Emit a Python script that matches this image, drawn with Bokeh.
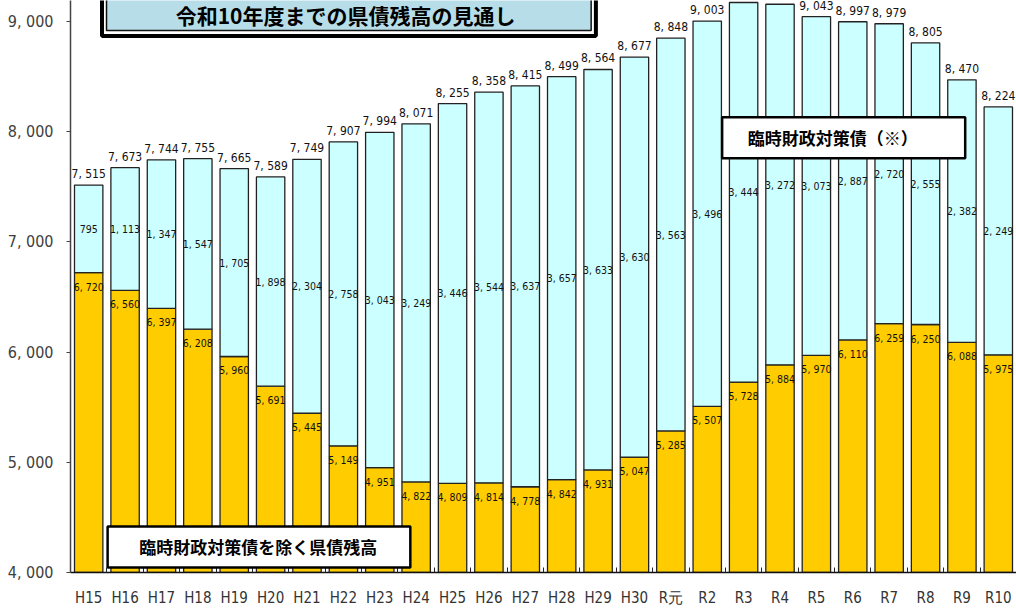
from bokeh.plotting import figure
from bokeh.models import ColumnDataSource, Range1d, FixedTicker, BoxAnnotation, Label
from bokeh.embed import file_html
from bokeh.resources import INLINE
from bokeh.core.properties import value

categories = ["H15", "H16", "H17", "H18", "H19", "H20", "H21", "H22", "H23", "H24",
              "H25", "H26", "H27", "H28", "H29", "H30", "R元", "R2", "R3", "R4",
              "R5", "R6", "R7", "R8", "R9", "R10"]
excl_rinzai = [6720, 6560, 6397, 6208, 5960, 5691, 5445, 5149, 4951, 4822,
               4809, 4814, 4778, 4842, 4931, 5047, 5285, 5507, 5728, 5884,
               5970, 6110, 6259, 6250, 6088, 5975]
rinzai = [795, 1113, 1347, 1547, 1705, 1898, 2304, 2758, 3043, 3249,
          3446, 3544, 3637, 3657, 3633, 3630, 3563, 3496, 3444, 3272,
          3073, 2887, 2720, 2555, 2382, 2249]
totals = [7515, 7673, 7744, 7755, 7665, 7589, 7749, 7907, 7994, 8071,
          8255, 8358, 8415, 8499, 8564, 8677, 8848, 9003, 9172, 9156,
          9043, 8997, 8979, 8805, 8470, 8224]
y_ticks = [4000, 5000, 6000, 7000, 8000, 9000]

title_text = "令和10年度までの県債残高の見通し"
label_upper = "臨時財政対策債（※）"
label_lower = "臨時財政対策債を除く県債残高"


def jfmt(v):
    return f"{v:,}".replace(",", ", ")


xs = list(range(len(categories)))
src = ColumnDataSource(dict(
    x=xs,
    lower=excl_rinzai,
    upper=rinzai,
    total=totals,
    mid=[a + b / 2 for a, b in zip(excl_rinzai, rinzai)],
    lower_txt=[jfmt(v) for v in excl_rinzai],
    upper_txt=[jfmt(v) for v in rinzai],
    total_txt=[jfmt(v) for v in totals],
))

ORANGE = "#FFCC00"
CYAN = "#CCFFFF"
NUMFONT = "'DejaVu Sans Condensed', 'Liberation Sans', sans-serif"
JPFONT = "Noto Sans CJK JP"

p = figure(width=1016, height=609, output_backend="svg", toolbar_location=None,
           x_range=Range1d(-0.5, len(categories) - 0.5),
           y_range=Range1d(4000, 9190),
           min_border_left=70, min_border_right=0, min_border_top=0, min_border_bottom=36)
p.outline_line_color = None
p.xgrid.grid_line_color = None
p.ygrid.grid_line_color = None
p.background_fill_color = "white"

p.vbar_stack(["lower", "upper"], x="x", width=0.78, source=src,
             fill_color=[ORANGE, CYAN], line_color="#222222", line_width=1.3)

# value labels
p.text(x="x", y="lower", text="lower_txt", source=src, text_align="center",
       text_baseline="top", y_offset=8, text_font=value(NUMFONT),
       text_font_size="10.5px", text_color="#111111")
p.text(x="x", y="mid", text="upper_txt", source=src, text_align="center",
       text_baseline="middle", text_font=value(NUMFONT),
       text_font_size="10.5px", text_color="#111111")
p.text(x="x", y="total", text="total_txt", source=src, text_align="center",
       text_baseline="bottom", y_offset=-4, text_font=value(NUMFONT),
       text_font_size="12px", text_color="#111111")

# axes
p.yaxis.ticker = FixedTicker(ticks=y_ticks)
p.yaxis.major_label_overrides = {t: jfmt(t) for t in y_ticks}
p.yaxis.major_label_text_font = NUMFONT
p.yaxis.major_label_text_font_size = "16px"
p.yaxis.major_label_text_color = "#404040"
p.yaxis.major_label_standoff = 13
p.yaxis.major_tick_in = 0
p.yaxis.major_tick_out = 4
p.yaxis.minor_tick_line_color = None
p.yaxis.axis_line_color = "#444444"
p.yaxis.axis_line_width = 1.5
p.yaxis.major_tick_line_color = "#444444"

p.xaxis.ticker = FixedTicker(ticks=xs, minor_ticks=[i + 0.5 for i in xs])
p.xaxis.major_label_overrides = {i: c for i, c in enumerate(categories)}
p.xaxis.major_label_text_font = NUMFONT
p.xaxis.major_label_text_font_size = "15px"
p.xaxis.major_label_text_color = "#333333"
p.xaxis.major_label_standoff = 10
p.xaxis.major_tick_line_color = None
p.xaxis.minor_tick_in = 5
p.xaxis.minor_tick_out = 0
p.xaxis.minor_tick_line_color = "#222222"
p.xaxis.axis_line_color = "#111111"
p.xaxis.axis_line_width = 1.5

# title box (double border: thick outer black, white gap, thin inner black)
p.add_layout(BoxAnnotation(left=0.365, right=13.94, bottom=8869, top=9600,
                           fill_color="white", fill_alpha=1.0,
                           line_color="#000000", line_alpha=1.0, line_width=4))
p.add_layout(BoxAnnotation(left=0.49, right=13.81, bottom=8918, top=9600,
                           fill_color="#B7DEE8", fill_alpha=1.0,
                           line_color="#111111", line_alpha=1.0, line_width=1.5))
p.add_layout(Label(x=7.06, y=9060, text=title_text, text_align="center",
                   text_baseline="middle", text_font=JPFONT, text_font_style="bold",
                   text_font_size="21px", text_color="#000000"))

# upper legend box
p.add_layout(BoxAnnotation(left=17.41, right=24.09, bottom=7759, top=8130,
                           fill_color="white", fill_alpha=1.0,
                           line_color="#000000", line_alpha=1.0, line_width=2.5))
p.add_layout(Label(x=20.45, y=7947, text=label_upper, text_align="center",
                   text_baseline="middle", text_font=JPFONT, text_font_style="bold",
                   text_font_size="17px", text_color="#000000"))

# lower legend box
p.add_layout(BoxAnnotation(left=0.52, right=8.84, bottom=4045, top=4417,
                           fill_color="white", fill_alpha=1.0,
                           line_color="#000000", line_alpha=1.0, line_width=2.5))
p.add_layout(Label(x=4.66, y=4232, text=label_lower, text_align="center",
                   text_baseline="middle", text_font=JPFONT, text_font_style="bold",
                   text_font_size="17px", text_color="#000000"))

open("out.html", "w").write(file_html(p, INLINE))
